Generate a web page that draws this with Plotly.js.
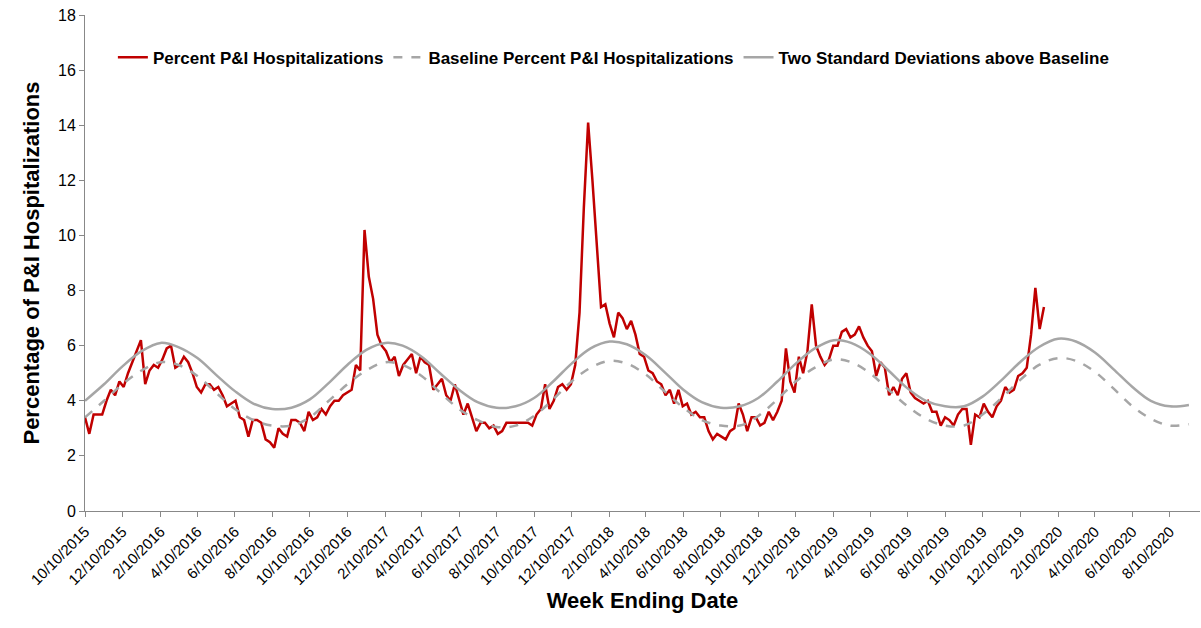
<!DOCTYPE html>
<html>
<head>
<meta charset="utf-8">
<script src="https://cdn.plot.ly/plotly-3.0.1.min.js"></script>
<style>body{margin:0;background:#fff}#plot{width:1201px;height:628px}</style>
</head>
<body>
<div id="plot"></div>
<script>
// weekly percent P&I, weeks ending from 10/10/2015
var percentPI = [
  3.4,2.8,3.5,3.5,3.5,4.0,4.4,4.2,4.7,4.5,5.0,5.4,5.8,6.2,4.6,5.1,5.3,5.2,5.5,5.9,
  6.0,5.2,5.3,5.6,5.4,5.0,4.5,4.3,4.6,4.6,4.4,4.5,4.2,3.8,3.9,4.0,3.4,3.3,2.7,3.3,
  3.3,3.2,2.6,2.5,2.3,3.0,2.8,2.7,3.3,3.3,3.2,2.9,3.6,3.3,3.4,3.7,3.5,3.8,4.0,4.0,
  4.2,4.3,4.4,5.3,5.1,10.2,8.5,7.7,6.4,6.0,5.8,5.4,5.6,4.9,5.3,5.5,5.7,5.0,5.6,5.4,
  5.3,4.4,4.6,4.8,4.2,4.0,4.6,4.0,3.5,3.9,3.4,2.9,3.2,3.2,3.0,3.1,2.8,2.9,3.2,3.2,
  3.2,3.2,3.2,3.2,3.1,3.5,3.7,4.6,3.7,4.0,4.5,4.6,4.4,4.6,5.3,7.2,11.0,14.1,12.0,9.6,
  7.4,7.5,6.8,6.3,7.2,7.0,6.6,6.9,6.4,5.7,5.6,5.1,5.0,4.7,4.6,4.2,4.4,3.9,4.4,3.8,
  3.9,3.5,3.6,3.4,3.4,2.9,2.6,2.8,2.7,2.6,2.9,3.0,3.9,3.5,2.9,3.4,3.4,3.1,3.2,3.6,
  3.3,3.6,4.0,5.9,4.7,4.3,5.6,5.0,5.8,7.5,6.0,5.6,5.3,5.5,6.0,6.0,6.5,6.6,6.3,6.4,
  6.7,6.3,6.0,5.8,4.9,5.4,5.2,4.2,4.5,4.2,4.8,5.0,4.3,4.1,4.0,3.9,4.0,3.6,3.6,3.1,
  3.4,3.3,3.1,3.5,3.7,3.7,2.4,3.5,3.4,3.9,3.6,3.4,3.8,4.0,4.5,4.3,4.4,4.9,5.0,5.2,
  6.4,8.1,6.6,7.4
];

// monthly (10th of month) values from 10/10/2015 to 9/10/2020
var baselinePI = [
  3.4,4.0,4.6,5.1,5.4,5.3,4.9,4.3,3.7,3.3,3.1,3.1,
  3.4,4.0,4.6,5.1,5.4,5.3,4.9,4.3,3.7,3.3,3.05,3.1,
  3.45,4.05,4.7,5.2,5.45,5.35,4.95,4.35,3.75,3.3,3.1,3.1,
  3.45,4.05,4.7,5.2,5.5,5.4,5.0,4.4,3.8,3.35,3.1,3.1,
  3.5,4.1,4.75,5.3,5.55,5.45,5.05,4.45,3.8,3.35,3.1,3.15
];
var thresholdPI = [
  4.0,4.6,5.25,5.8,6.1,5.95,5.55,4.95,4.35,3.9,3.7,3.75,
  4.05,4.65,5.3,5.85,6.1,6.0,5.6,5.0,4.4,3.95,3.75,3.8,
  4.1,4.7,5.35,5.9,6.15,6.05,5.65,5.05,4.4,3.95,3.75,3.8,
  4.1,4.7,5.35,5.9,6.2,6.1,5.7,5.1,4.45,4.0,3.8,3.8,
  4.15,4.75,5.4,5.95,6.25,6.15,5.75,5.15,4.5,4.0,3.8,3.85
];

function pad(n) { return (n < 10 ? '0' : '') + n; }

var weekDates = [];
var start = new Date(Date.UTC(2015, 9, 10));
for (var i = 0; i < percentPI.length; i++) {
  var d = new Date(start.getTime() + i * 7 * 86400000);
  weekDates.push(d.getUTCFullYear() + '-' + pad(d.getUTCMonth() + 1) + '-' + pad(d.getUTCDate()));
}

var monthDates = [];
for (var m = 0; m < baselinePI.length; m++) {
  var mm = 9 + m;
  monthDates.push((2015 + Math.floor(mm / 12)) + '-' + pad(mm % 12 + 1) + '-10');
}

// tick labels every two months
var tickVals = [], tickText = [];
for (var k = 0; k < 30; k++) {
  var t = 9 + 2 * k;
  var yr = 2015 + Math.floor(t / 12), mo = t % 12 + 1;
  tickVals.push(yr + '-' + pad(mo) + '-10');
  tickText.push(mo + '/10/' + yr);
}

var traces = [
  {x: weekDates, y: percentPI, type: 'scatter', mode: 'lines', name: 'Percent P&I Hospitalizations',
   line: {color: '#c00000', width: 2.5}},
  {x: monthDates, y: baselinePI, type: 'scatter', mode: 'lines', name: 'Baseline Percent P&I Hospitalizations',
   line: {color: '#a6a6a6', width: 2.5, dash: 'dash', shape: 'spline'}},
  {x: monthDates, y: thresholdPI, type: 'scatter', mode: 'lines', name: 'Two Standard Deviations above Baseline',
   line: {color: '#a6a6a6', width: 2.5, shape: 'spline'}}
];

var layout = {
  width: 1201, height: 628,
  margin: {l: 85, r: 1, t: 15, b: 117},
  font: {family: 'Liberation Sans, Arial, sans-serif', color: '#000'},
  showlegend: true,
  legend: {orientation: 'h', x: 0.025, y: 0.95, xanchor: 'left', yanchor: 'top',
           font: {size: 17, weight: 'bold'}, bgcolor: 'rgba(0,0,0,0)'},
  xaxis: {
    type: 'date', range: ['2015-10-10', '2020-09-28'],
    tickvals: tickVals, ticktext: tickText, tickangle: -45,
    tickfont: {size: 15}, ticks: 'outside', ticklen: 5, tickcolor: '#888',
    showline: true, linecolor: '#888', showgrid: false, zeroline: false,
    title: {text: 'Week Ending Date', font: {size: 22, weight: 'bold'}, standoff: 4}
  },
  yaxis: {
    range: [0, 18], dtick: 2, tickfont: {size: 16},
    ticks: 'outside', ticklen: 5, tickcolor: '#888',
    showline: true, linecolor: '#888', showgrid: false, zeroline: false,
    title: {text: 'Percentage of P&I Hospitalizations', font: {size: 22, weight: 'bold'}, standoff: 12}
  },
  plot_bgcolor: '#fff', paper_bgcolor: '#fff'
};

Plotly.newPlot('plot', traces, layout, {displayModeBar: false});
</script>
</body>
</html>
